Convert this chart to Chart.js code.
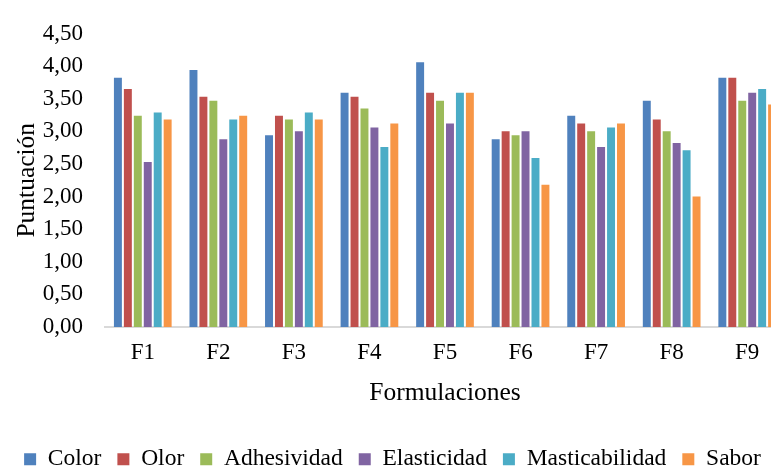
<!DOCTYPE html>
<html lang="es">
<head>
<meta charset="utf-8">
<title>Puntuación por formulación</title>
<script src="https://cdn.jsdelivr.net/npm/chart.js@4.4.1/dist/chart.umd.min.js"></script>
<style>
  html, body { margin: 0; padding: 0; background: #fff; overflow: hidden; }
  #wrap { position: absolute; left: 0; top: 0; width: 790px; height: 481px; }
</style>
</head>
<body>
<div id="wrap"><canvas id="chart" width="790" height="481"></canvas></div>
<script>
// Datos
const formulaciones = ['F1', 'F2', 'F3', 'F4', 'F5', 'F6', 'F7', 'F8', 'F9'];
const color          = [3.82, 3.94, 2.94, 3.59, 4.06, 2.88, 3.24, 3.47, 3.82];
const olor           = [3.65, 3.53, 3.24, 3.53, 3.59, 3.00, 3.12, 3.18, 3.82];
const adhesividad    = [3.24, 3.47, 3.18, 3.35, 3.47, 2.94, 3.00, 3.00, 3.47];
const elasticidad    = [2.53, 2.88, 3.00, 3.06, 3.12, 3.00, 2.76, 2.82, 3.59];
const masticabilidad = [3.29, 3.18, 3.29, 2.76, 3.59, 2.59, 3.06, 2.71, 3.65];
const sabor          = [3.18, 3.24, 3.18, 3.12, 3.59, 2.18, 3.12, 2.00, 3.41];

const FONT = "'Liberation Serif', 'Times New Roman', serif";

const serie = (label, data, bg) => ({
  label,
  data,
  backgroundColor: bg,
  borderWidth: 0,
  barPercentage: 0.8,
  categoryPercentage: 0.79
});

new Chart(document.getElementById('chart'), {
  type: 'bar',
  data: {
    labels: formulaciones,
    datasets: [
      serie('Color', color, '#4F81BD'),
      serie('Olor', olor, '#C0504D'),
      serie('Adhesividad', adhesividad, '#9BBB59'),
      serie('Elasticidad', elasticidad, '#8064A2'),
      serie('Masticabilidad', masticabilidad, '#4BACC6'),
      serie('Sabor', sabor, '#F79646')
    ]
  },
  options: {
    responsive: false,
    animation: false,
    layout: { padding: { top: 27, right: 5, bottom: 0, left: 0 } },
    scales: {
      x: {
        grid: { display: false, drawTicks: false },
        border: { display: true, color: '#d9d9d9', width: 2 },
        ticks: { color: '#000', font: { family: FONT, size: 23 }, padding: 12 },
        title: {
          display: true,
          text: 'Formulaciones',
          color: '#000',
          font: { family: FONT, size: 25.5 },
          padding: { top: 0, bottom: 23 }
        },
        afterFit: (scale) => { scale.height = 104.5; }
      },
      y: {
        min: 0,
        max: 4.5,
        grid: { display: false, drawTicks: false },
        border: { display: false },
        ticks: {
          stepSize: 0.5,
          autoSkip: false,
          color: '#000',
          font: { family: FONT, size: 23, lineHeight: 1 },
          padding: 22,
          callback: (v) => v.toFixed(2).replace('.', ',')
        },
        title: {
          display: true,
          text: 'Puntuación',
          color: '#000',
          font: { family: FONT, size: 25.5 },
          padding: { top: 12, bottom: 0 }
        },
        afterFit: (scale) => { scale.width = 105; }
      }
    },
    plugins: {
      tooltip: { enabled: false },
      legend: {
        position: 'bottom',
        labels: {
          color: '#000',
          font: { family: FONT, size: 23.5 },
          boxWidth: 12,
          boxHeight: 12,
          padding: 16
        }
      }
    }
  }
});
</script>
</body>
</html>
